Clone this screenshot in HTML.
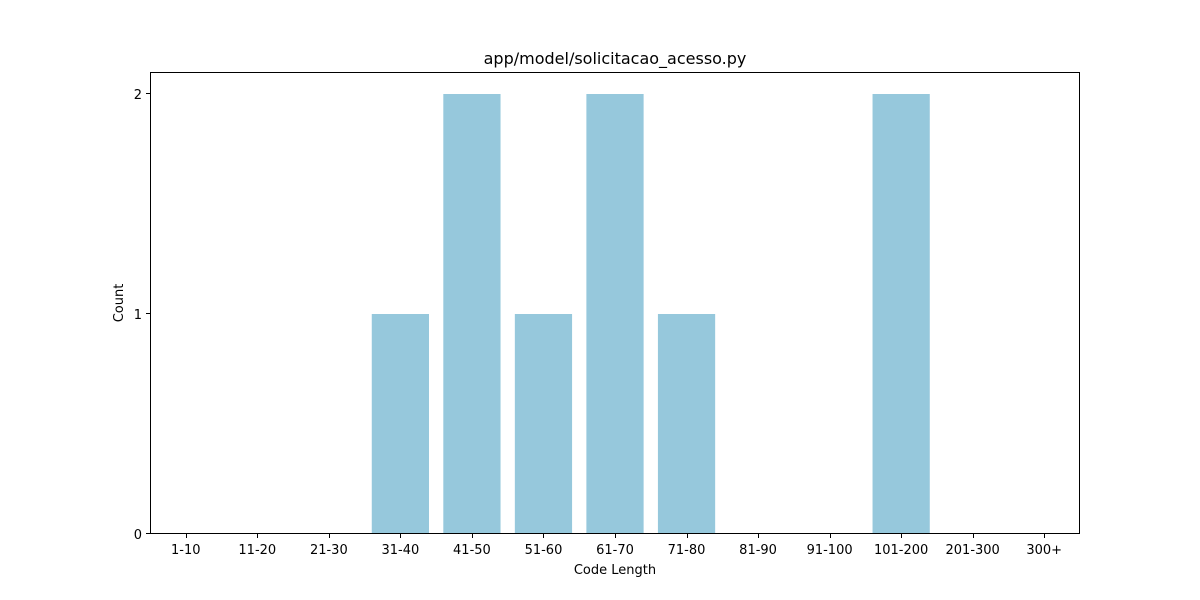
<!DOCTYPE html>
<html><head><meta charset="utf-8"><style>body{margin:0;background:#fff}svg{display:block}text{font-family:"DejaVu Sans","Liberation Sans",sans-serif;fill:#000}</style></head>
<body>
<svg id="chart" width="1200" height="600" xmlns="http://www.w3.org/2000/svg">
<rect x="0" y="0" width="1200" height="600" fill="#fff"/>
<text x="615" y="64" font-size="16" text-anchor="middle">app/model/solicitacao_acesso.py</text>
<g id="bars"></g>
<g id="axes"></g>
<text x="615" y="574" font-size="13" text-anchor="middle">Code Length</text>
<text x="0" y="0" font-size="13" text-anchor="middle" transform="translate(123,303) rotate(-90)">Count</text>
</svg>
<script>
const categories = ["1-10","11-20","21-30","31-40","41-50","51-60","61-70","71-80","81-90","91-100","101-200","201-300","300+"];
const counts = [0,0,0,1,2,1,2,1,0,0,2,0,0];
const yTicks = [0,1,2];
const L=150,R=1080,T=72,B=534,yMax=2.1;
const ns="http://www.w3.org/2000/svg";
const step=(R-L)/categories.length;
function xPos(i){return L+(i+0.5)*step;}
function yPos(v){return B-(v/yMax)*(B-T);}
const bars=document.getElementById('bars'),axes=document.getElementById('axes');
function mk(tag,attrs,parent){const e=document.createElementNS(ns,tag);for(const k in attrs)e.setAttribute(k,attrs[k]);parent.appendChild(e);return e;}
counts.forEach((v,i)=>{
  const w=step*0.8;
  const r=mk('rect',{x:xPos(i)-w/2,y:yPos(v),width:w,height:B-yPos(v),fill:'#96c8dc'},bars);
  
  
});
const frame=mk('rect',{x:L+0.5,y:T+0.5,width:R-L-1,height:B-T-1,fill:'none',stroke:'#000','stroke-width':1},axes);


categories.forEach((c,i)=>{
  const x=Math.round(xPos(i))+0.5;
  const t=mk('line',{x1:x,x2:x,y1:B,y2:B+4,stroke:'#000'},axes);
  
  
  const l=mk('text',{x:xPos(i),y:B+20,'font-size':13,'text-anchor':'middle'},axes);
  l.textContent=c;
  
  
});
yTicks.forEach(v=>{
  const y=Math.round(yPos(v))-0.5;
  const t=mk('line',{x1:L-4,x2:L,y1:y,y2:y,stroke:'#000'},axes);
  
  
  const l=mk('text',{x:L-8,y:yPos(v)+5,'font-size':13,'text-anchor':'end'},axes);
  l.textContent=v;
  
  
});
</script>
</body></html>
